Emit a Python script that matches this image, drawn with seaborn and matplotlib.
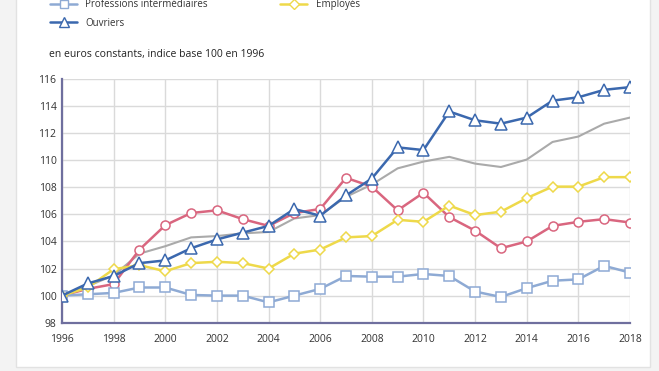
import numpy as np
import pandas as pd
import matplotlib
matplotlib.use("Agg")
import matplotlib.pyplot as plt
import seaborn as sns
from matplotlib.patches import Rectangle
from matplotlib.lines import Line2D

years = list(range(1996, 2019))

ensemble = [100, 100.7, 101.5, 103.1, 103.65, 104.3, 104.4, 104.6, 104.7, 105.7, 105.95,
            107.3, 108.2, 109.4, 109.9, 110.25, 109.75, 109.5, 110.05, 111.35, 111.75, 112.7, 113.15]
cadres = [100, 100.5, 100.85, 103.4, 105.2, 106.1, 106.3, 105.65, 105.15, 106.1, 106.4,
          108.7, 108.05, 106.3, 107.6, 105.8, 104.8, 103.5, 104.0, 105.15, 105.45, 105.65, 105.4]
prof_inter = [100, 100.1, 100.2, 100.6, 100.6, 100.05, 100.0, 100.0, 99.5, 100.0, 100.5,
              101.45, 101.4, 101.4, 101.6, 101.45, 100.3, 99.9, 100.55, 101.1, 101.2, 102.2, 101.7]
employes = [100, 100.6, 101.95, 102.25, 101.8, 102.4, 102.5, 102.4, 102.0, 103.1, 103.4,
            104.3, 104.4, 105.6, 105.45, 106.65, 105.95, 106.2, 107.2, 108.05, 108.05, 108.75, 108.75]
ouvriers = [100, 100.9, 101.45, 102.4, 102.6, 103.5, 104.15, 104.65, 105.15, 106.4, 105.9,
            107.4, 108.65, 110.95, 110.75, 113.6, 112.95, 112.7, 113.15, 114.4, 114.65, 115.2, 115.4]

y_ticks = [98, 100, 102, 104, 106, 108, 110, 112, 114, 116]
x_ticks = list(range(1996, 2019, 2))
subtitle = "en euros constants, indice base 100 en 1996"

sns.set_style("white")
plt.rcParams['font.family'] = ['Open Sans', 'DejaVu Sans']

fig = plt.figure(figsize=(6.59, 3.71), dpi=100)
fig.patch.set_facecolor("#f3f3f3")
# white panel
fig.patches.append(Rectangle((16/659, 1 - 367/371), (650-16)/659, 1.2, transform=fig.transFigure,
                             facecolor="white", edgecolor="#e2e2e2", lw=1, zorder=-5))

ax = fig.add_axes([62/659, 1 - 322.7/371, (630-62)/659, (322.7-79)/371])
ax.set_facecolor("white")

c_red = "#d9667f"
c_gray = "#aaaaaa"
c_lb = "#8eaad4"
c_yel = "#eed94a"
c_blue = "#3b68ae"

sns.lineplot(x=years, y=ensemble, ax=ax, color=c_gray, lw=1.5, zorder=3)
sns.lineplot(x=years, y=cadres, ax=ax, color=c_red, lw=1.8, marker="o", markersize=6.5,
             markerfacecolor="white", markeredgecolor=c_red, markeredgewidth=1.1, zorder=4)
sns.lineplot(x=years, y=prof_inter, ax=ax, color=c_lb, lw=1.8, marker="s", markersize=6.5,
             markerfacecolor="white", markeredgecolor=c_lb, markeredgewidth=1.1, zorder=4)
sns.lineplot(x=years, y=employes, ax=ax, color=c_yel, lw=1.8, marker="D", markersize=5.5,
             markerfacecolor="white", markeredgecolor=c_yel, markeredgewidth=1.1, zorder=5)
sns.lineplot(x=years, y=ouvriers, ax=ax, color=c_blue, lw=1.8, marker="^", markersize=8.5,
             markerfacecolor="white", markeredgecolor=c_blue, markeredgewidth=1.1, zorder=6)

ax.set_xlim(1996, 2018)
ax.set_ylim(98, 116)
ax.set_xticks(x_ticks)
ax.set_yticks(y_ticks)
ax.grid(True, color="#dadada", lw=1)
ax.set_axisbelow(True)
for s in ["top", "right"]:
    ax.spines[s].set_visible(False)
for s in ["left", "bottom"]:
    ax.spines[s].set_color("#6f6f9e")
    ax.spines[s].set_linewidth(1.6)
ax.tick_params(axis="both", labelsize=7.5, colors="#333333", length=0, pad=4)
ax.tick_params(axis="x", pad=8)
ax.set_xlabel("")
ax.set_ylabel("")

fig.text(49/659, 1 - 55/371, subtitle, fontsize=7.5, color="#222222", va="center", ha="left")

handles = [
    Line2D([], [], color=c_lb, lw=1.8, marker="s", markersize=6, markerfacecolor="white", markeredgecolor=c_lb),
    Line2D([], [], color=c_blue, lw=1.8, marker="^", markersize=7, markerfacecolor="white", markeredgecolor=c_blue),
    Line2D([], [], color=c_yel, lw=1.8, marker="D", markersize=5, markerfacecolor="white", markeredgecolor=c_yel),
]
labels = ["Professions intermédiaires", "Ouvriers", "Employés"]
fig.legend(handles, labels, ncol=2, loc="upper left", bbox_to_anchor=(50/659, 1 + 1/371),
           frameon=False, fontsize=7, handlelength=2.8, handletextpad=0.85,
           columnspacing=7.4, labelspacing=0.8, borderpad=0, borderaxespad=0,
           labelcolor="#333333")

fig.savefig("out.png", dpi=100, facecolor=fig.get_facecolor())
